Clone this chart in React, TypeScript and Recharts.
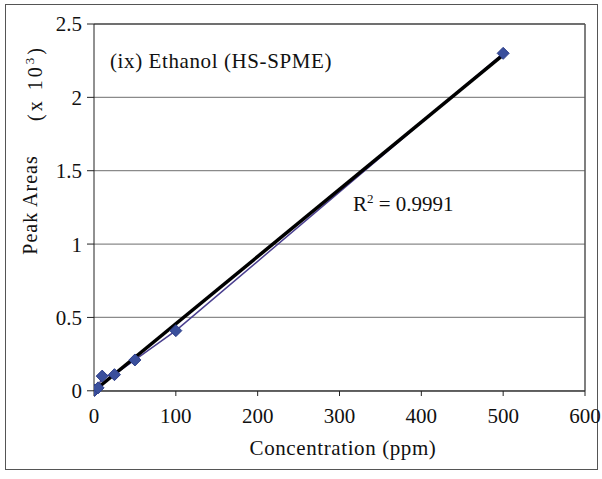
import { ComposedChart, Line, XAxis, YAxis, CartesianGrid, ReferenceLine } from 'recharts';

const concentrations = [0, 1, 5, 10, 25, 50, 100, 500];
const peakAreas = [0, 0.005, 0.02, 0.1, 0.11, 0.21, 0.41, 2.3];
const xTicks = [0, 100, 200, 300, 400, 500, 600];
const yTicks = [0, 0.5, 1, 1.5, 2, 2.5];

const points = concentrations.map((x, i) => ({ x, y: peakAreas[i] }));

// least squares fit for the trendline
const n = concentrations.length;
const mx = concentrations.reduce((a, b) => a + b, 0) / n;
const my = peakAreas.reduce((a, b) => a + b, 0) / n;
let sxy = 0;
let sxx = 0;
concentrations.forEach((x, i) => {
  sxy += (x - mx) * (peakAreas[i] - my);
  sxx += (x - mx) * (x - mx);
});
const slope = sxy / sxx;
const intercept = my - slope * mx;
const trend = [0, 500].map((x) => ({ x, t: intercept + slope * x }));

const FONT = '"Liberation Serif", "Times New Roman", serif';

function Diamond(props: any) {
  const { cx, cy } = props;
  if (cx == null || cy == null) return null;
  const r = 6;
  return (
    <path
      d={`M${cx},${cy - r} L${cx + r},${cy} L${cx},${cy + r} L${cx - r},${cy} Z`}
      fill="#3a4f9c"
      stroke="#2e3f8a"
      strokeWidth={1}
    />
  );
}

export default function App() {
  return (
    <div style={{ position: 'absolute', left: 0, top: 0, width: 602, height: 479, background: '#fff' }}>
      <div
        style={{
          position: 'absolute',
          left: 5,
          top: 4,
          width: 591,
          height: 464,
          border: '1.5px solid #555',
        }}
      />
      <ComposedChart
        width={602}
        height={479}
        margin={{ top: 24, right: 17, bottom: 38, left: 0 }}
        style={{ position: 'absolute', left: 0, top: 0 }}
      >
        <CartesianGrid horizontal vertical={false} stroke="#8a8a8a" strokeWidth={1.2} />
        <XAxis
          type="number"
          dataKey="x"
          domain={[0, 600]}
          ticks={xTicks}
          height={50}
          stroke="#222"
          tickSize={5}
          tickMargin={12}
          tick={{ fill: '#111', fontSize: 21, fontFamily: FONT }}
          allowDataOverflow
        />
        <YAxis
          type="number"
          domain={[0, 2.5]}
          ticks={yTicks}
          width={94}
          stroke="#222"
          tickSize={7}
          tickMargin={5}
          tick={{ fill: '#111', fontSize: 21, fontFamily: FONT }}
        />
        <ReferenceLine y={2.5} stroke="#555" strokeWidth={1.5} />
        <ReferenceLine x={600} stroke="#555" strokeWidth={1.5} />
        <Line
          data={points}
          dataKey="y"
          stroke="#4a3f8f"
          strokeWidth={1.5}
          dot={<Diamond />}
          activeDot={false}
          isAnimationActive={false}
        />
        <Line
          data={trend}
          dataKey="t"
          stroke="#000"
          strokeWidth={3.5}
          dot={false}
          activeDot={false}
          isAnimationActive={false}
        />
      </ComposedChart>
      <svg
        width={602}
        height={479}
        style={{ position: 'absolute', left: 0, top: 0, pointerEvents: 'none' }}
        fontFamily={FONT}
        fill="#111"
      >
        <text x={110} y={68} fontSize={21} letterSpacing={0.6}>(ix) Ethanol (HS-SPME)</text>
        <text x={353} y={211} fontSize={21}>
          R<tspan dy={-8} fontSize={13}>2</tspan>
          <tspan dy={8}> = 0.9991</tspan>
        </text>
        <text x={343} y={455} fontSize={21} textAnchor="middle" letterSpacing={0.6}>
          Concentration (ppm)
        </text>
        <text transform="translate(37,205) rotate(-90)" fontSize={20} textAnchor="middle" letterSpacing={1}>
          Peak Areas
        </text>
        <text transform="translate(42,83) rotate(-90)" fontSize={20} textAnchor="middle" letterSpacing={3}>
          (x 10<tspan dy={-8} fontSize={13}>3</tspan>
          <tspan dy={8}>)</tspan>
        </text>
      </svg>
    </div>
  );
}
